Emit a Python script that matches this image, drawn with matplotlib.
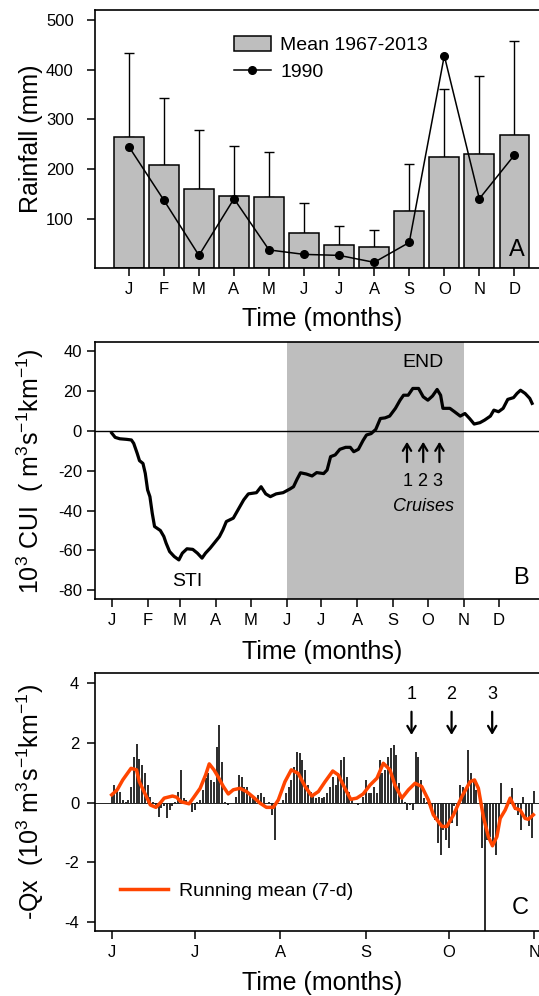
import numpy as np
import matplotlib
matplotlib.use("Agg")
import matplotlib.pyplot as plt

plt.rcParams['font.family'] = ['Liberation Sans', 'DejaVu Sans']
plt.rcParams['mathtext.fontset'] = 'custom'
plt.rcParams['mathtext.rm'] = 'Liberation Sans'
plt.rcParams['mathtext.it'] = 'Liberation Sans:italic'
plt.rcParams['axes.unicode_minus'] = False

# ---- panel A: monthly rainfall ----
months = ['J', 'F', 'M', 'A', 'M', 'J', 'J', 'A', 'S', 'O', 'N', 'D']
rain_mean = [264, 207, 160, 146, 144, 71, 46, 43, 116, 225, 231, 269]
rain_sd = [170, 135, 118, 101, 91, 61, 40, 35, 94, 136, 156, 189]
rain_1990 = [245, 137, 26, 140, 37, 28, 26, 12, 52, 428, 140, 228]

# ---- panel B: cumulative upwelling index (day of year, value) ----
month_start = [0, 31, 59, 90, 120, 151, 181, 212, 243, 273, 304, 334]
cui_day = [0, 3, 7, 13, 17, 19, 22, 24, 27, 29, 31, 33, 35, 37, 42, 45, 47,
           50, 54, 58, 61, 65, 70, 74, 78, 81, 85, 89, 93, 96, 99, 105, 109,
           114, 118, 125, 129, 133, 137, 142, 148, 154, 157, 160, 163, 168,
           173, 177, 183, 186, 189, 193, 197, 202, 206, 209, 213, 217, 220,
           224, 228, 232, 236, 240, 245, 249, 252, 256, 260, 265, 269, 273,
           277, 281, 284, 286, 292, 296, 301, 305, 309, 313, 318, 322, 327,
           330, 334, 338, 342, 347, 350, 353, 357, 361, 363]
cui_val = [-1, -3.2, -3.9, -4.2, -4.5, -6.2, -11.2, -14.9, -16.3, -21.3,
           -29.6, -33, -41.3, -48, -50, -53, -56.4, -60.6, -63.1, -64.8,
           -61.4, -59.2, -59.5, -61.4, -63.9, -61.4, -58.9, -56, -53.1,
           -49.7, -45.5, -43.8, -39.7, -34.6, -31.6, -31, -28, -31.6, -33,
           -31.6, -31, -29.1, -28, -24.3, -21, -21.6, -22.6, -20.9, -21.4,
           -19.6, -12.9, -12, -9.2, -8.2, -8.2, -10.4, -9.2, -4.8, -2, -1.3,
           0.8, 6.3, 6.6, 7.5, 11.4, 15.5, 18, 18, 21.4, 21.4, 17.2, 15.5,
           17.6, 20.9, 18, 11.4, 11.4, 9.7, 7.5, 8.8, 6.3, 3.5, 4.2, 5.5,
           7.5, 10.5, 9.7, 11.4, 15.9, 16.8, 18.9, 20.5, 18.9, 16.4, 13.9]
cruise_day = [255, 269, 283]

# ---- panel C: daily -Qx from 1 June (day 0) ----
qx_months = ['J', 'J', 'A', 'S', 'O', 'N']
qx_month_start = [0, 30, 61, 92, 122, 153]
qx_daily = [0.31, 0.59, 0.42, 0.37, 0.09, 0.03, 0.09, 0.53, 1.54, 1.98,
            1.48, 1.26, 0.98, 0.59, 0.2, 0.03, -0.08, -0.47, -0.19, -0.13,
            -0.52, -0.25, -0.13, 0.03, 0.37, 1.09, 0.15, 0.09, -0.02, -0.3,
            -0.25, 0.03, 0.09, 0.42, 0.81, 0.98, 0.76, 0.7, 1.87, 2.6,
            1.37, 0.03, -0.08, -0.02, -0.02, 0.2, 0.93, 0.87, 0.54, 0.54,
            0.31, 0.2, 0.09, 0.26, 0.31, 0.2, -0.02, 0.03, -0.41, -1.25,
            -0.02, 0.0, 0.09, 0.31, 0.54, 0.76, 1.2, 1.71, 1.65, 1.43,
            1.09, 0.59, 0.37, 0.26, 0.15, 0.2, 0.15, 0.2, 0.31, 0.54,
            0.87, 0.59, 0.98, 1.43, 1.54, 0.87, 0.37, 0.15, -0.02, -0.08,
            -0.02, 0.2, 0.76, 0.31, 0.31, 0.54, 0.31, 1.43, 0.98, 1.09,
            1.54, 1.82, 1.93, 1.6, 0.65, 0.2, 0.03, -0.25, -0.08, -0.25,
            1.71, 1.54, 0.76, 0.15, 0.03, -0.08, -0.25, -0.58, -1.36, -1.75,
            -0.91, -1.25, -1.53, -0.69, -0.13, -0.8, 0.59, 0.54, 0.42, 1.76,
            0.98, 0.76, 0.42, 0.0, -1.53, -4.4, -1.25, -1.14, -1.36, -1.75,
            -0.69, 0.65, -0.02, -0.02, 0.09, 0.48, -0.25, -0.42, -0.91, 0.2,
            -0.47, -0.8, -1.2, 0.4]
rm_day = [0, 2, 4, 7, 9, 10, 12, 14, 16, 17.5, 19, 22, 23.5, 25, 28, 29.5,
          32, 34, 35.3, 37, 38.6, 40.4, 42.2, 44, 46.4, 48.8, 51.3, 53.7,
          56, 58.5, 60.3, 62.7, 65, 67.5, 70, 72.4, 74.8, 77.2, 80, 82,
          84.4, 86.5, 88.7, 91, 93.5, 96, 98.3, 100.7, 102.5, 105, 107.4,
          109.8, 112.2, 114.6, 116.4, 119.5, 121.3, 123.7, 126.7, 129.7,
          131.3, 132.7, 134.5, 136.3, 137.8, 139.4, 140.6, 142.4, 144.2,
          146, 147.8, 149.6, 150.8, 152.6]
rm_val = [0.26, 0.43, 0.76, 1.15, 1.1, 0.7, 0.31, -0.08, -0.16, -0.02,
          0.15, 0.22, 0.18, 0.03, -0.04, 0.15, 0.48, 0.93, 1.3, 1.1, 0.85,
          0.54, 0.29, 0.43, 0.48, 0.37, 0.18, -0.02, -0.16, -0.16, 0.09,
          0.7, 1.1, 0.98, 0.54, 0.22, 0.37, 0.7, 1.06, 0.93, 0.48, 0.11,
          0.15, 0.29, 0.59, 0.82, 1.32, 1.1, 0.59, 0.15, 0.43, 0.65, 0.54,
          0.09, -0.41, -0.8, -0.8, -0.41, 0.2, 0.7, 0.76, 0.48, -0.47,
          -1.14, -1.45, -1.14, -0.53, -0.25, 0.15, -0.19, -0.25, -0.53,
          -0.56, -0.41]
qx_cruise_day = [108.5, 123, 137.7]

W, H = 539, 996
fig = plt.figure(figsize=(W / 100, H / 100), dpi=100)


def axes_px(left, top, right, bottom):
    return fig.add_axes([left / W, 1 - bottom / H, (right - left) / W, (bottom - top) / H])


TICK = 12
LAB = 18


def style(ax, ypad):
    for s in ax.spines.values():
        s.set_linewidth(1.2)
    ax.tick_params(direction='out', length=6, width=1.1, labelsize=TICK, pad=4)
    ax.tick_params(axis='y', pad=ypad)


# panel A
axA = axes_px(94.5, 10, 550.5, 268.3)
x = np.arange(1, 13)
bars = axA.bar(x, rain_mean, width=0.85, color='#bebebe', edgecolor='k', lw=1.1,
               zorder=2)
axA.errorbar(x, rain_mean, yerr=[np.zeros(12), rain_sd], fmt='none', ecolor='k',
             elinewidth=1, capsize=3.5, capthick=1, zorder=1)
line90, = axA.plot(x, rain_1990, '-o', color='k', lw=1.1, ms=5.5, zorder=3)
axA.set_xlim(0.02, 13.03)
axA.set_ylim(0, 520)
axA.set_xticks(x)
axA.set_xticklabels(months)
axA.set_yticks([100, 200, 300, 400, 500])
style(axA, 9)
axA.set_ylabel('Rainfall (mm)', fontsize=LAB, va='center')
axA.yaxis.set_label_coords(-0.14, 0.5)
axA.set_xlabel('Time (months)', fontsize=LAB, va='center')
axA.xaxis.set_label_coords(0.5, -0.196)
axA.text(12.08, 36, 'A', fontsize=17, ha='center', va='center')
axA.legend([bars, line90], ['Mean 1967-2013', '1990'], loc='upper left',
           bbox_to_anchor=(0.305, 0.90), frameon=False,
           fontsize=14, borderaxespad=0, borderpad=0, handlelength=1.9,
           handleheight=0.8, handletextpad=0.5, labelspacing=0.45)

# panel B
axB = axes_px(94.5, 342.3, 550.5, 599.3)
axB.axvspan(month_start[5], month_start[10], color='#bebebe', lw=0, zorder=0)
axB.axhline(0, color='k', lw=1, zorder=1)
axB.plot(cui_day, cui_val, color='k', lw=2.3, zorder=3)
axB.set_xlim(-14.85, 378.9)
axB.set_ylim(-84.6, 44.6)
axB.set_xticks(month_start)
axB.set_xticklabels(months)
axB.set_yticks([40, 20, 0, -20, -40, -60, -80])
style(axB, 3)
axB.set_ylabel(r'10$^{3}$ CUI  ( m$^{3}$s$^{-1}$km$^{-1}$)', fontsize=LAB, va='center')
axB.yaxis.set_label_coords(-0.1415, 0.5)
axB.set_xlabel('Time (months)', fontsize=LAB, va='center')
axB.xaxis.set_label_coords(0.5, -0.204)
for d in cruise_day:
    axB.annotate('', xy=(d, -5.4), xytext=(d, -15.6),
                 arrowprops=dict(arrowstyle='->,head_length=0.5,head_width=0.3',
                                 lw=1.6, color='k', shrinkA=0, shrinkB=0))
axB.text(cruise_day[1], -25.4, '1 2 3', fontsize=13, ha='center', va='center')
axB.text(cruise_day[1], -38, 'Cruises', fontsize=13, style='italic', ha='center', va='center')
axB.text(cruise_day[1], 34.5, 'END', fontsize=14, ha='center', va='center')
axB.text(65, -75.6, 'STI', fontsize=14, ha='center', va='center')
axB.text(353, -74, 'B', fontsize=17, ha='center', va='center')

# panel C
axC = axes_px(94.5, 673.3, 550.5, 931)
days = np.arange(len(qx_daily))
axC.vlines(days, 0, qx_daily, color='#1a1a1a', lw=1.3, zorder=2)
axC.axhline(0, color='k', lw=0.6, zorder=1)
rm_line, = axC.plot(rm_day, rm_val, color='#ff4500', lw=2.5, zorder=3)
axC.set_xlim(-6.22, 158.8)
axC.set_ylim(-4.31, 4.34)
axC.set_xticks(qx_month_start)
axC.set_xticklabels(qx_months)
axC.set_yticks([4, 2, 0, -2, -4])
style(axC, 5)
axC.set_ylabel(r'-Qx  (10$^{3}$ m$^{3}$s$^{-1}$km$^{-1}$)', fontsize=LAB, va='center')
axC.yaxis.set_label_coords(-0.1415, 0.5)
axC.set_xlabel('Time (months)', fontsize=LAB, va='center')
axC.xaxis.set_label_coords(0.5, -0.202)
for i, d in enumerate(qx_cruise_day):
    axC.annotate('', xy=(d, 2.27), xytext=(d, 3.05),
                 arrowprops=dict(arrowstyle='->,head_length=0.5,head_width=0.3',
                                 lw=1.6, color='k', shrinkA=0, shrinkB=0))
    axC.text(d, 3.62, str(i + 1), fontsize=13, ha='center', va='center')
axC.text(148, -3.54, 'C', fontsize=17, ha='center', va='center')
axC.legend([rm_line], ['Running mean (7-d)'], loc='center left',
           bbox_to_anchor=(0.055, 0.156), frameon=False, fontsize=14,
           borderaxespad=0, borderpad=0, handlelength=2.5, handletextpad=0.55)

fig.savefig('out.png', dpi=100)
